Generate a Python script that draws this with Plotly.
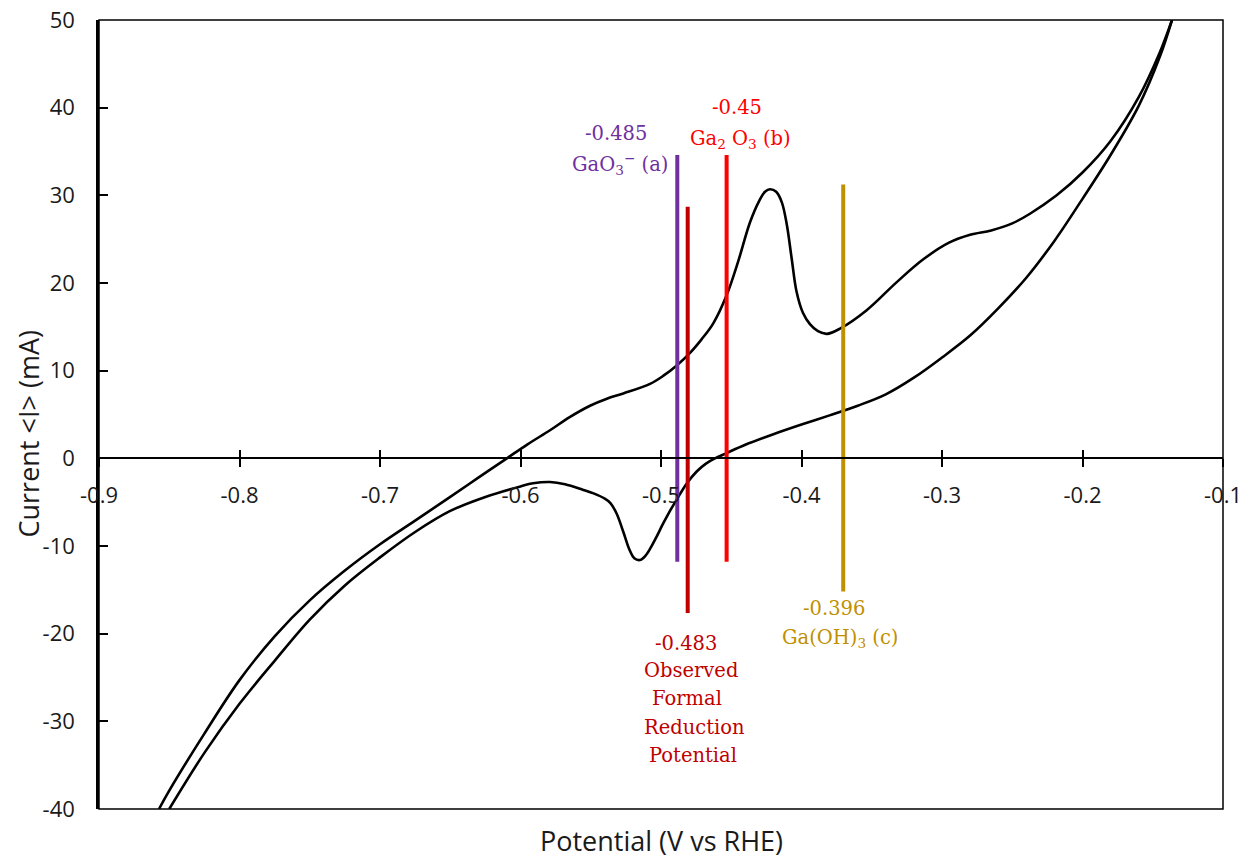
import plotly.graph_objects as go

# ---- CV curve, forward (anodic) branch ----
up_x = [-0.8573, -0.850, -0.825, -0.800, -0.775, -0.750, -0.725, -0.700, -0.675, -0.650,
        -0.630, -0.6097, -0.595, -0.579, -0.565, -0.5505, -0.5385, -0.5268, -0.5078, -0.4985,
        -0.4888, -0.4795, -0.4710, -0.4628, -0.4533, -0.4450, -0.4367, -0.4300, -0.4260, -0.4224,
        -0.4180, -0.4140, -0.4105, -0.4070, -0.4035, -0.3990, -0.3940, -0.3883, -0.3819, -0.3726,
        -0.3536, -0.3322, -0.3133, -0.2950, -0.2800, -0.2650, -0.2500, -0.2374, -0.2184, -0.2000,
        -0.1800, -0.1600, -0.1450, -0.1363]
up_y = [-40.0, -37.9, -31.4, -25.3, -20.3, -16.2, -12.8, -9.8, -7.1, -4.4,
        -2.2, 0.0, 1.6, 3.2, 4.7, 6.0, 6.8, 7.4, 8.5, 9.4,
        10.6, 12.0, 13.6, 15.4, 18.6, 22.5, 26.9, 29.4, 30.4, 30.7,
        30.4, 29.2, 26.7, 22.8, 19.0, 16.6, 15.3, 14.5, 14.2, 14.8,
        16.9, 20.1, 22.7, 24.6, 25.5, 26.0, 26.8, 27.9, 30.0, 32.6,
        36.2, 41.2, 46.3, 50.0]

# ---- CV curve, return (cathodic) branch ----
dn_x = [-0.1363, -0.1450, -0.1600, -0.1800, -0.2000, -0.2200, -0.2400, -0.2600, -0.2800, -0.3000,
        -0.3200, -0.3400, -0.3600, -0.3800, -0.4000, -0.4200, -0.4400, -0.4533, -0.4615, -0.4680,
        -0.4746, -0.4818, -0.4888, -0.4940, -0.4990, -0.5030, -0.5070, -0.5110, -0.5150, -0.5190,
        -0.5225, -0.5268, -0.5316, -0.5360, -0.5400, -0.5480, -0.5553, -0.5683, -0.5790, -0.5911,
        -0.6000, -0.6250, -0.6500, -0.6750, -0.7000, -0.7250, -0.7500, -0.7750, -0.8000, -0.8250,
        -0.8500]
dn_y = [50.0, 45.8, 40.2, 34.6, 29.6, 24.8, 20.6, 17.1, 14.0, 11.5,
        9.2, 7.3, 6.0, 4.9, 3.85, 2.75, 1.55, 0.6, 0.0, -0.6,
        -1.5, -2.9, -4.7, -6.1, -7.6, -8.9, -10.1, -11.1, -11.6, -11.4,
        -10.4, -8.4, -6.3, -5.1, -4.6, -4.0, -3.6, -2.95, -2.7, -2.85,
        -3.2, -4.4, -6.0, -8.4, -11.3, -14.5, -18.4, -23.1, -28.0, -33.6,
        -40.0]

# ---- reference potential markers ----
mark_x = [-0.4884, -0.4810, -0.4533, -0.3703]
mark_top = [34.6, 28.7, 34.6, 31.25]
mark_bot = [-11.8, -17.65, -11.8, -15.2]
mark_col = ["#7030A0", "#C00000", "#FF0000", "#BF9000"]

x_ticks = [-0.9, -0.8, -0.7, -0.6, -0.5, -0.4, -0.3, -0.2, -0.1]
y_ticks = [-40, -30, -20, -10, 0, 10, 20, 30, 40, 50]

fig = go.Figure()
for xs, ys in ((up_x, up_y), (dn_x, dn_y)):
    fig.add_trace(go.Scatter(x=xs, y=ys, mode="lines",
                             line=dict(color="black", width=2.6, shape="spline", smoothing=1.0),
                             showlegend=False, hoverinfo="skip"))
for mx, t, b, c in zip(mark_x, mark_top, mark_bot, mark_col):
    fig.add_trace(go.Scatter(x=[mx, mx], y=[b, t], mode="lines",
                             line=dict(color=c, width=4),
                             showlegend=False, hoverinfo="skip"))

# invisible trace on second x axis (gives the crossing tick marks)
fig.add_trace(go.Scatter(x=[-0.9, -0.1], y=[0, 0], xaxis="x2", mode="lines",
                         line=dict(width=0), showlegend=False, hoverinfo="skip"))

serif = "DejaVu Serif"
labels = [
    ("-0.485", -0.5320, 37.1, "#7030A0"),
    ("GaO<sub>3</sub><sup>−</sup> (a)", -0.5292, 33.6, "#7030A0"),
    ("-0.45", -0.4456, 40.0, "#FF0000"),
    ("Ga<sub>2</sub> O<sub>3</sub> (b)", -0.4431, 36.4, "#FF0000"),
    ("-0.483", -0.4822, -21.1, "#C00000"),
    ("Observed", -0.4786, -24.25, "#C00000"),
    ("Formal", -0.4815, -27.35, "#C00000"),
    ("Reduction", -0.4765, -30.65, "#C00000"),
    ("Potential", -0.4772, -33.85, "#C00000"),
    ("-0.396", -0.3769, -17.1, "#BF9000"),
    ("Ga(OH)<sub>3</sub> (c)", -0.3726, -20.6, "#BF9000"),
]
for txt, ax_, ay_, col in labels:
    fig.add_annotation(x=ax_, y=ay_, text=txt, showarrow=False,
                       font=dict(family=serif, size=19.5, color=col),
                       xanchor="center", yanchor="middle")

fig.add_annotation(x=0.5, y=0, xref="paper", yref="paper", yshift=-31,
                   text="Potential (V vs RHE)", showarrow=False,
                   font=dict(family="Open Sans", size=27, color="#1a1a1a"),
                   xanchor="center", yanchor="middle")
fig.add_annotation(x=0, y=0.5, xref="paper", yref="paper", xshift=-71, yshift=-20,
                   text="Current &lt;I&gt; (mA)", showarrow=False,
                   font=dict(family="Open Sans", size=27, color="#1a1a1a"),
                   textangle=-90, xanchor="center", yanchor="middle")

# frame
fig.add_shape(type="rect", xref="paper", yref="paper", x0=0, y0=0, x1=1, y1=1,
              line=dict(color="black", width=1.5), layer="above")

axis_font = dict(family="Open Sans", size=22, color="#1a1a1a")
fig.update_layout(
    width=1247, height=859,
    margin=dict(l=99, r=24, t=20, b=50, autoexpand=False),
    plot_bgcolor="white", paper_bgcolor="white",
    showlegend=False,
    xaxis=dict(range=[-0.9, -0.1], tickvals=x_ticks, ticktext=[f"{v:.1f}" for v in x_ticks],
               showgrid=False, zeroline=False, showline=True, linecolor="black", linewidth=1.5,
               ticks="outside", ticklen=8, tickwidth=1.5, tickcolor="black",
               anchor="free", position=40/90, tickfont=axis_font, ticklabelstandoff=10,
               automargin=False),
    xaxis2=dict(range=[-0.9, -0.1], matches="x", overlaying="x", tickvals=x_ticks,
                showticklabels=False, showgrid=False, zeroline=False, showline=False,
                ticks="inside", ticklen=8, tickwidth=1.5, tickcolor="black",
                anchor="free", position=40/90, automargin=False),
    yaxis=dict(range=[-40, 50], tickvals=y_ticks, ticktext=[str(v) for v in y_ticks],
               showgrid=False, zeroline=False,
               showline=True, linecolor="black", linewidth=2.5,
               ticks="inside", ticklen=9, tickwidth=2, tickcolor="black",
               tickfont=axis_font, ticklabelstandoff=17, automargin=False),
)

fig.write_html("out.html")
